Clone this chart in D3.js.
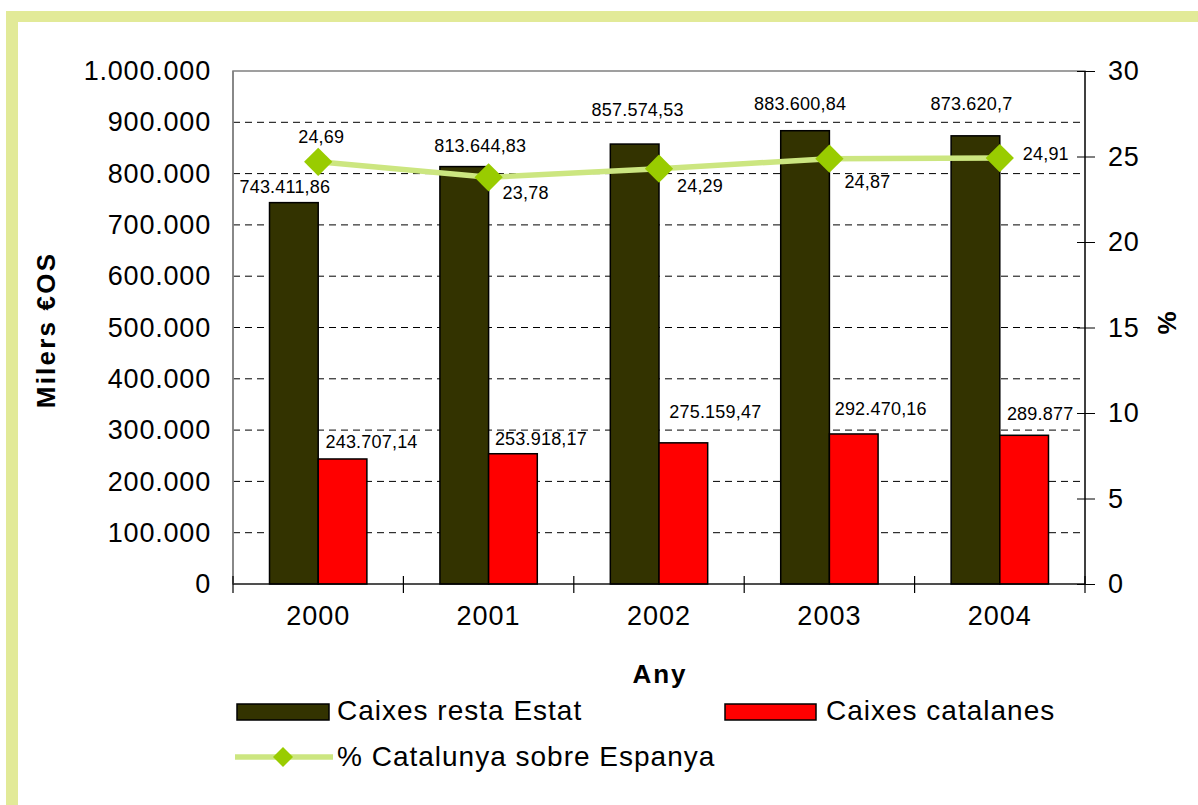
<!DOCTYPE html>
<html><head><meta charset="utf-8">
<script src="https://cdn.jsdelivr.net/npm/d3@7"></script>
<style>
body{margin:0;background:#fff}
text{font-family:"Liberation Sans",Arial,sans-serif;fill:#000}
</style>
</head><body>
<svg id="c" width="1198" height="805"></svg>
<script>
// ---- data ----
const years = ["2000", "2001", "2002", "2003", "2004"];
const restaEstat = [743411.86, 813644.83, 857574.53, 883600.84, 873620.7];
const catalanes = [243707.14, 253918.17, 275159.47, 292470.16, 289877];
const pctCatalunya = [24.69, 23.78, 24.29, 24.87, 24.91];
const leftTicks = [0, 100000, 200000, 300000, 400000, 500000, 600000, 700000, 800000, 900000, 1000000];
const rightTicks = [0, 5, 10, 15, 20, 25, 30];
const seriesNames = ["Caixes resta Estat", "Caixes catalanes", "% Catalunya sobre Espanya"];
const yTitle = "Milers €OS", y2Title = "%", xTitle = "Any";

// ---- layout / style (not data) ----
const L = 233, R = 1085, T = 71, B = 584;
const nudgeResta = [[-9, -10], [16, -15], [3, -28], [-5, -21], [-4, -26]];
const nudgeCat = [[29, -11], [28, -9], [32, -25], [27, -19], [16, -15]];
const nudgePct = [[3, -19], [37, 22], [41, 23], [38, 29], [46, 2]];
const cDark = "#333300", cRed = "#ff0000", cLine = "#cce680", cMark = "#99cc00", cFrame = "#e2ea98";

const loc = d3.formatLocale({decimal: ",", thousands: ".", grouping: [3], currency: ["", ""]});
const fTick = loc.format(",");
const fLab = loc.format(",.2~f");

const svg = d3.select("#c");

// frame
svg.append("rect").attr("x", 6).attr("y", 11).attr("width", 1192).attr("height", 11).attr("fill", cFrame);
svg.append("rect").attr("x", 6).attr("y", 11).attr("width", 12).attr("height", 794).attr("fill", cFrame);

const x = d3.scaleBand().domain(years).range([L, R]).paddingInner(0).paddingOuter(0);
const y = d3.scaleLinear().domain([0, 1000000]).range([B, T]);
const y2 = d3.scaleLinear().domain([0, 30]).range([B, T]);
const bw = x.bandwidth() / 3.5;

// gridlines
svg.append("g").selectAll("line").data(leftTicks.filter(d => d > 0 && d < 1000000)).join("line")
  .attr("x1", L).attr("x2", R).attr("y1", d => y(d)).attr("y2", d => y(d))
  .attr("stroke", "#000").attr("stroke-width", 1).attr("stroke-dasharray", "7,5");

// plot border
svg.append("rect").attr("x", L).attr("y", T).attr("width", R - L).attr("height", B - T)
  .attr("fill", "none").attr("stroke", "#808080").attr("stroke-width", 1.5);

// bars
svg.append("g").selectAll("rect").data(years).join("rect")
  .attr("x", d => x(d) + bw * 0.75).attr("y", (d, i) => y(restaEstat[i]))
  .attr("width", bw).attr("height", (d, i) => B - y(restaEstat[i]))
  .attr("fill", cDark).attr("stroke", "#000").attr("stroke-width", 1.5);
svg.append("g").selectAll("rect").data(years).join("rect")
  .attr("x", d => x(d) + bw * 1.75).attr("y", (d, i) => y(catalanes[i]))
  .attr("width", bw).attr("height", (d, i) => B - y(catalanes[i]))
  .attr("fill", cRed).attr("stroke", "#000").attr("stroke-width", 1.5);

// axes lines
svg.append("line").attr("x1", L).attr("x2", R).attr("y1", B).attr("y2", B).attr("stroke", "#000").attr("stroke-width", 1.2);
svg.append("line").attr("x1", R).attr("x2", R).attr("y1", T).attr("y2", B).attr("stroke", "#000").attr("stroke-width", 1.2);
svg.append("line").attr("x1", L).attr("x2", L).attr("y1", T).attr("y2", B).attr("stroke", "#808080").attr("stroke-width", 1.5);

// left axis (labels only)
const gl = svg.append("g").attr("transform", `translate(${L},0)`)
  .call(d3.axisLeft(y).tickValues(leftTicks).tickFormat(fTick).tickSize(0).tickPadding(22));
gl.select(".domain").remove();
gl.selectAll("text").style("font-size", "27px").style("letter-spacing", "0.8px")
  .attr("font-family", "Liberation Sans, Arial, sans-serif");

// right axis
const gr = svg.append("g").attr("transform", `translate(${R},0)`)
  .call(d3.axisRight(y2).tickValues(rightTicks).tickSize(10).tickPadding(13));
gr.select(".domain").remove();
gr.selectAll(".tick line").attr("x1", -8).attr("stroke", "#000");
gr.selectAll("text").style("font-size", "27px").style("letter-spacing", "0.8px")
  .attr("font-family", "Liberation Sans, Arial, sans-serif");

// x axis
const boundaries = years.map(d => x(d)).concat([R]);
svg.append("g").selectAll("line").data(boundaries).join("line")
  .attr("x1", d => d).attr("x2", d => d).attr("y1", B - 8).attr("y2", B + 9)
  .attr("stroke", "#000").attr("stroke-width", 1.2);
const gx = svg.append("g").attr("transform", `translate(0,${B})`)
  .call(d3.axisBottom(x).tickSize(0).tickPadding(22));
gx.select(".domain").remove();
gx.selectAll("text").style("font-size", "27px").style("letter-spacing", "1px")
  .attr("font-family", "Liberation Sans, Arial, sans-serif");

// line + markers
const cx = d => x(d) + x.bandwidth() / 2;
svg.append("path").datum(years)
  .attr("d", d3.line().x(d => cx(d)).y((d, i) => y2(pctCatalunya[i])))
  .attr("fill", "none").attr("stroke", cLine).attr("stroke-width", 5.5);
const dia = d3.symbol().type(d3.symbolSquare).size(400);
svg.append("g").selectAll("path").data(years).join("path")
  .attr("d", dia)
  .attr("transform", (d, i) => `translate(${cx(d)},${y2(pctCatalunya[i])}) rotate(45)`)
  .attr("fill", cMark);

// data labels
const lab = svg.append("g").style("font-size", "18px").style("letter-spacing", "0.2px").attr("text-anchor", "middle");
lab.selectAll(".lr").data(years).join("text").attr("class", "lr")
  .attr("x", (d, i) => x(d) + bw * 1.25 + nudgeResta[i][0])
  .attr("y", (d, i) => y(restaEstat[i]) + nudgeResta[i][1])
  .text((d, i) => fLab(restaEstat[i]));
lab.selectAll(".lc").data(years).join("text").attr("class", "lc")
  .attr("x", (d, i) => x(d) + bw * 2.25 + nudgeCat[i][0])
  .attr("y", (d, i) => y(catalanes[i]) + nudgeCat[i][1])
  .text((d, i) => fLab(catalanes[i]));
lab.selectAll(".lp").data(years).join("text").attr("class", "lp")
  .attr("x", (d, i) => cx(d) + nudgePct[i][0])
  .attr("y", (d, i) => y2(pctCatalunya[i]) + nudgePct[i][1])
  .text((d, i) => fLab(pctCatalunya[i]));

// titles
svg.append("text").attr("transform", "translate(46,330) rotate(-90)")
  .attr("text-anchor", "middle").attr("dominant-baseline", "central")
  .style("font-size", "26px").style("font-weight", "bold").style("letter-spacing", "2.2px").text(yTitle);
svg.append("text").attr("transform", "translate(1167,323) rotate(-90)")
  .attr("text-anchor", "middle").attr("dominant-baseline", "central")
  .style("font-size", "26px").style("font-weight", "bold").text(y2Title);
svg.append("text").attr("x", (L + R) / 2 + 1).attr("y", 683).attr("text-anchor", "middle")
  .style("font-size", "26px").style("font-weight", "bold").style("letter-spacing", "2px").text(xTitle);

// legend
const lg = svg.append("g").style("font-size", "28px").style("letter-spacing", "1px");
lg.append("rect").attr("x", 237).attr("y", 704).attr("width", 92).attr("height", 16)
  .attr("fill", cDark).attr("stroke", "#000").attr("stroke-width", 1.5);
lg.append("text").attr("x", 337).attr("y", 720).text(seriesNames[0]);
lg.append("rect").attr("x", 725).attr("y", 704).attr("width", 91).attr("height", 16)
  .attr("fill", cRed).attr("stroke", "#000").attr("stroke-width", 1.5);
lg.append("text").attr("x", 826).attr("y", 720).text(seriesNames[1]);
lg.append("line").attr("x1", 235).attr("x2", 333).attr("y1", 757).attr("y2", 757)
  .attr("stroke", cLine).attr("stroke-width", 5.5);
lg.append("path").attr("d", d3.symbol().type(d3.symbolSquare).size(200))
  .attr("transform", "translate(283,757) rotate(45)").attr("fill", cMark);
lg.append("text").attr("x", 337).attr("y", 766).text(seriesNames[2]);
</script>
</body></html>
